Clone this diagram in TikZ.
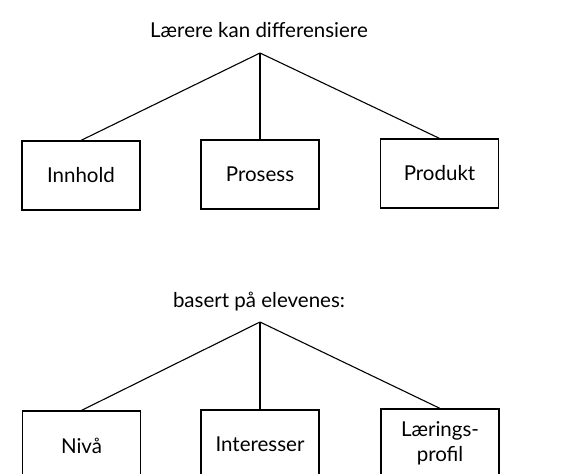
\documentclass[tikz,border=0pt]{standalone}
\usepackage{fontspec}
\setmainfont{Lato}
\usetikzlibrary{positioning}

\begin{document}
\begin{tikzpicture}[x=1pt, y=-1pt,
    box/.style={draw, line width=1.2pt, minimum width=118pt, minimum height=69pt,
      inner sep=0pt, align=center, font=\fontsize{20.5}{25}\selectfont},
    head/.style={inner sep=0pt, anchor=base, font=\fontsize{20.5}{24}\selectfont},
    link/.style={line width=1.1pt}]
    \clip (0,0) rectangle (571,474);
    \fill[white] (0,0) rectangle (571,474);

    % upper tree
    \node[head] (laerer) at (259, 37) {Lærere kan differensiere};
    \coordinate (top1) at (260, 53);
    \node[box] (innhold) at (81, 175.5) {Innhold};
    \node[box] (prosess) at (260, 174.5) {Prosess};
    \node[box] (produkt) at (439.5, 173.5) {Produkt};
    \draw[link] (top1) -- (innhold.north);
    \draw[link] (top1) -- (prosess.north);
    \draw[link] (top1) -- (produkt.north);

    % lower tree
    \node[head] (basert) at (259, 307) {basert på elevenes:};
    \coordinate (top2) at (260, 322);
    \node[box] (niva) at (81.5, 445.5) {Nivå};
    \node[box] (interesser) at (260, 444.5) {Interesser};
    \node[box] (profil) at (440, 443.5) {Lærings-\\profil};
    \draw[link] (top2) -- (niva.north);
    \draw[link] (top2) -- (interesser.north);
    \draw[link] (top2) -- (profil.north);
\end{tikzpicture}
\end{document}
